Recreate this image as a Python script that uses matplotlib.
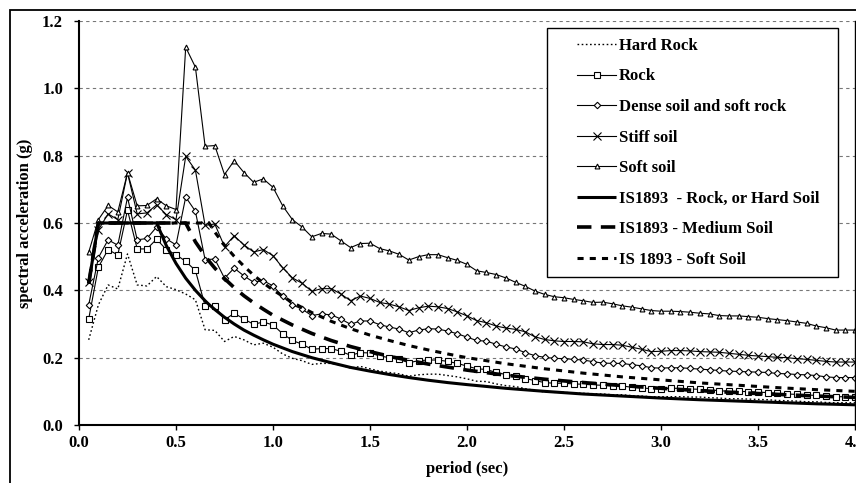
import matplotlib
matplotlib.use("Agg")
import matplotlib.pyplot as plt
from matplotlib.patches import Rectangle

period = [0.05, 0.10, 0.15, 0.20, 0.25, 0.30, 0.35, 0.40, 0.45, 0.50,
          0.55, 0.60, 0.65, 0.70, 0.75, 0.80, 0.85, 0.90, 0.95, 1.00,
          1.05, 1.10, 1.15, 1.20, 1.25, 1.30, 1.35, 1.40, 1.45, 1.50,
          1.55, 1.60, 1.65, 1.70, 1.75, 1.80, 1.85, 1.90, 1.95, 2.00,
          2.05, 2.10, 2.15, 2.20, 2.25, 2.30, 2.35, 2.40, 2.45, 2.50,
          2.55, 2.60, 2.65, 2.70, 2.75, 2.80, 2.85, 2.90, 2.95, 3.00,
          3.05, 3.10, 3.15, 3.20, 3.25, 3.30, 3.35, 3.40, 3.45, 3.50,
          3.55, 3.60, 3.65, 3.70, 3.75, 3.80, 3.85, 3.90, 3.95, 4.00]

hard_rock = [0.253, 0.357, 0.416, 0.404, 0.508, 0.416, 0.413, 0.441, 0.411, 0.402,
             0.389, 0.372, 0.283, 0.281, 0.248, 0.263, 0.253, 0.238, 0.243, 0.231,
             0.211, 0.198, 0.191, 0.180, 0.183, 0.183, 0.178, 0.169, 0.174, 0.167,
             0.160, 0.156, 0.152, 0.145, 0.149, 0.151, 0.151, 0.147, 0.143, 0.137,
             0.130, 0.129, 0.122, 0.117, 0.114, 0.108, 0.103, 0.098, 0.097, 0.097,
             0.095, 0.094, 0.093, 0.092, 0.090, 0.090, 0.087, 0.086, 0.084, 0.084,
             0.084, 0.084, 0.083, 0.083, 0.081, 0.080, 0.078, 0.078, 0.077, 0.076,
             0.075, 0.073, 0.072, 0.071, 0.069, 0.069, 0.067, 0.066, 0.066, 0.066]

rock = [0.315, 0.469, 0.521, 0.505, 0.638, 0.523, 0.523, 0.552, 0.521, 0.506,
        0.486, 0.459, 0.354, 0.354, 0.312, 0.332, 0.315, 0.299, 0.306, 0.297,
        0.271, 0.251, 0.240, 0.225, 0.227, 0.227, 0.219, 0.207, 0.215, 0.214,
        0.205, 0.200, 0.195, 0.185, 0.191, 0.193, 0.193, 0.189, 0.183, 0.175,
        0.167, 0.165, 0.156, 0.150, 0.146, 0.138, 0.132, 0.126, 0.124, 0.124,
        0.122, 0.121, 0.119, 0.118, 0.116, 0.116, 0.112, 0.110, 0.108, 0.108,
        0.109, 0.109, 0.107, 0.106, 0.104, 0.102, 0.100, 0.100, 0.099, 0.098,
        0.096, 0.094, 0.092, 0.091, 0.089, 0.088, 0.086, 0.084, 0.084, 0.084]

dense_soil = [0.357, 0.497, 0.550, 0.534, 0.676, 0.550, 0.554, 0.588, 0.553, 0.535,
              0.677, 0.635, 0.491, 0.493, 0.436, 0.466, 0.443, 0.424, 0.429, 0.413,
              0.382, 0.357, 0.344, 0.325, 0.330, 0.327, 0.315, 0.299, 0.309, 0.309,
              0.298, 0.291, 0.285, 0.274, 0.282, 0.286, 0.285, 0.279, 0.271, 0.261,
              0.251, 0.249, 0.240, 0.232, 0.226, 0.215, 0.206, 0.201, 0.198, 0.197,
              0.195, 0.193, 0.188, 0.184, 0.183, 0.183, 0.179, 0.176, 0.170, 0.169,
              0.170, 0.170, 0.168, 0.166, 0.164, 0.162, 0.160, 0.159, 0.158, 0.157,
              0.156, 0.153, 0.152, 0.150, 0.149, 0.147, 0.143, 0.141, 0.141, 0.141]

stiff_soil = [0.426, 0.580, 0.627, 0.610, 0.749, 0.627, 0.630, 0.654, 0.625, 0.610,
              0.798, 0.757, 0.593, 0.597, 0.530, 0.562, 0.535, 0.514, 0.521, 0.503,
              0.467, 0.437, 0.421, 0.397, 0.405, 0.405, 0.389, 0.369, 0.383, 0.376,
              0.364, 0.359, 0.351, 0.340, 0.348, 0.353, 0.351, 0.346, 0.336, 0.324,
              0.310, 0.304, 0.294, 0.288, 0.284, 0.277, 0.262, 0.254, 0.250, 0.248,
              0.248, 0.247, 0.241, 0.239, 0.239, 0.237, 0.231, 0.225, 0.218, 0.219,
              0.221, 0.221, 0.220, 0.218, 0.217, 0.216, 0.213, 0.210, 0.207, 0.205,
              0.203, 0.201, 0.200, 0.197, 0.195, 0.192, 0.189, 0.187, 0.187, 0.187]

soft_soil = [0.513, 0.610, 0.652, 0.633, 0.749, 0.651, 0.652, 0.672, 0.651, 0.640,
             1.122, 1.063, 0.828, 0.830, 0.744, 0.785, 0.750, 0.721, 0.731, 0.706,
             0.651, 0.610, 0.588, 0.559, 0.569, 0.567, 0.547, 0.527, 0.539, 0.540,
             0.524, 0.517, 0.507, 0.490, 0.500, 0.506, 0.506, 0.497, 0.489, 0.477,
             0.458, 0.453, 0.447, 0.437, 0.424, 0.412, 0.398, 0.388, 0.381, 0.378,
             0.373, 0.369, 0.364, 0.365, 0.360, 0.354, 0.350, 0.345, 0.340, 0.338,
             0.338, 0.337, 0.335, 0.332, 0.330, 0.325, 0.324, 0.324, 0.322, 0.320,
             0.316, 0.313, 0.310, 0.306, 0.302, 0.294, 0.289, 0.282, 0.282, 0.282]

is_period = [0.05, 0.10, 0.40, 0.45, 0.50, 0.55, 0.60, 0.65, 0.67, 0.70,
             0.75, 0.80, 0.85, 0.90, 0.95, 1.00, 1.10, 1.20, 1.30, 1.40,
             1.50, 1.60, 1.70, 1.80, 1.90, 2.00, 2.20, 2.40, 2.60, 2.80,
             3.00, 3.20, 3.40, 3.60, 3.80, 4.00]
is_rock = [0.42, 0.60, 0.60, 0.533, 0.480, 0.436, 0.400, 0.369, 0.358, 0.343,
           0.320, 0.300, 0.282, 0.267, 0.253, 0.240, 0.218, 0.200, 0.185, 0.171,
           0.160, 0.150, 0.141, 0.133, 0.126, 0.120, 0.109, 0.100, 0.092, 0.086,
           0.080, 0.075, 0.071, 0.067, 0.063, 0.060]
is_medium = [0.42, 0.60, 0.60, 0.60, 0.60, 0.60, 0.544, 0.502, 0.487, 0.466,
             0.435, 0.408, 0.384, 0.363, 0.344, 0.326, 0.297, 0.272, 0.251, 0.233,
             0.218, 0.204, 0.192, 0.181, 0.172, 0.163, 0.148, 0.136, 0.126, 0.117,
             0.109, 0.102, 0.096, 0.091, 0.086, 0.082]
is_soft = [0.42, 0.60, 0.60, 0.60, 0.60, 0.60, 0.60, 0.60, 0.60, 0.573,
           0.534, 0.501, 0.472, 0.445, 0.422, 0.401, 0.364, 0.334, 0.308, 0.286,
           0.267, 0.251, 0.236, 0.223, 0.211, 0.200, 0.182, 0.167, 0.154, 0.143,
           0.134, 0.125, 0.118, 0.111, 0.105, 0.100]

x_ticks = [0.0, 0.5, 1.0, 1.5, 2.0, 2.5, 3.0, 3.5, 4.0]
y_ticks = [0.0, 0.2, 0.4, 0.6, 0.8, 1.0, 1.2]

plt.rcParams['font.family'] = ['Liberation Serif', 'DejaVu Serif']
plt.rcParams['font.weight'] = 'bold'
FS = 12

W, H = 856, 483
fig = plt.figure(figsize=(W / 100, H / 100), dpi=100)

# outer chart border (only top and left edges visible in the crop)
fig.patches.append(Rectangle((10 / W, -0.2), 1.2, 1 - 10 / H + 0.2,
                             transform=fig.transFigure, fill=False,
                             edgecolor='black', linewidth=1.3))

ax = fig.add_axes([79 / W, 58 / H, 776 / W, 404 / H])
ax.set_xlim(0, 4.0)
ax.set_ylim(0, 1.2)

lw_thin = 0.8
ax.plot(period, hard_rock, color='black', lw=1.0, linestyle=(0, (1.2, 1.8)),
        label='Hard Rock')
ax.plot(period, rock, color='black', lw=lw_thin, marker='s', ms=4.2,
        mfc='white', mec='black', mew=0.8, label='Rock')
ax.plot(period, dense_soil, color='black', lw=lw_thin, marker='D', ms=3.3,
        mfc='white', mec='black', mew=0.8, label='Dense soil and soft rock')
ax.plot(period, stiff_soil, color='black', lw=lw_thin, marker='x', ms=5.5,
        mec='black', mew=0.8, label='Stiff soil')
ax.plot(period, soft_soil, color='black', lw=lw_thin, marker='^', ms=3.5,
        mfc='white', mec='black', mew=0.8, label='Soft soil')
ax.plot(is_period, is_rock, color='black', lw=2.2, solid_capstyle='butt',
        label='IS1893  - Rock, or Hard Soil')
ax.plot(is_period, is_medium, color='black', lw=2.6, linestyle=(0, (4.0, 2.6)),
        dash_capstyle='butt', label='IS1893 - Medium Soil')
ax.plot(is_period, is_soft, color='black', lw=2.2, linestyle=(0, (2.0, 2.0)),
        dash_capstyle='butt', label='IS 1893 - Soft Soil')

ax.set_xticks(x_ticks)
ax.set_xticklabels(['%.1f' % v for v in x_ticks])
ax.set_yticks(y_ticks)
ax.set_yticklabels(['%.1f' % v for v in y_ticks])
ax.tick_params(axis='both', direction='out', length=3.5, width=1.0,
               labelsize=FS, color='black')
ax.tick_params(axis='y', pad=8)
ax.tick_params(axis='x', pad=4)
for lab in ax.get_xticklabels() + ax.get_yticklabels():
    lab.set_fontweight('bold')

ax.yaxis.grid(True, color='#777777', linestyle=(0, (3, 3)), linewidth=0.8)
ax.set_axisbelow(True)

ax.spines['top'].set_visible(False)
ax.spines['left'].set_linewidth(1.5)
ax.spines['bottom'].set_linewidth(1.5)
ax.spines['right'].set_linewidth(1.0)

ax.set_xlabel('period (sec)', fontsize=FS, fontweight='bold')
ax.set_ylabel('spectral acceleration (g)', fontsize=FS, fontweight='bold')
ax.xaxis.set_label_coords(0.5, -(469 - 425) / 404)
ax.xaxis.label.set_va('center')
ax.yaxis.set_label_coords((25 - 79) / 776, 0.5)
ax.yaxis.label.set_va('center')

# legend box (drawn inside the axes, just below the legend entries)
ax.add_patch(Rectangle((547 / W, 1 - 277 / H), 291 / W, 249 / H,
                       transform=fig.transFigure, facecolor='white',
                       edgecolor='black', linewidth=1.0, zorder=9,
                       clip_on=False))
leg = ax.legend(loc='upper left', bbox_to_anchor=(577 / W, 1 - 38 / H),
                bbox_transform=fig.transFigure, frameon=False,
                prop={'family': ['Liberation Serif'], 'weight': 'bold', 'size': FS},
                handlelength=2.35, handletextpad=0.15, labelspacing=0.87,
                borderpad=0.0, borderaxespad=0.0, numpoints=1)
leg.set_zorder(10)

fig.savefig('out.png', dpi=100)
